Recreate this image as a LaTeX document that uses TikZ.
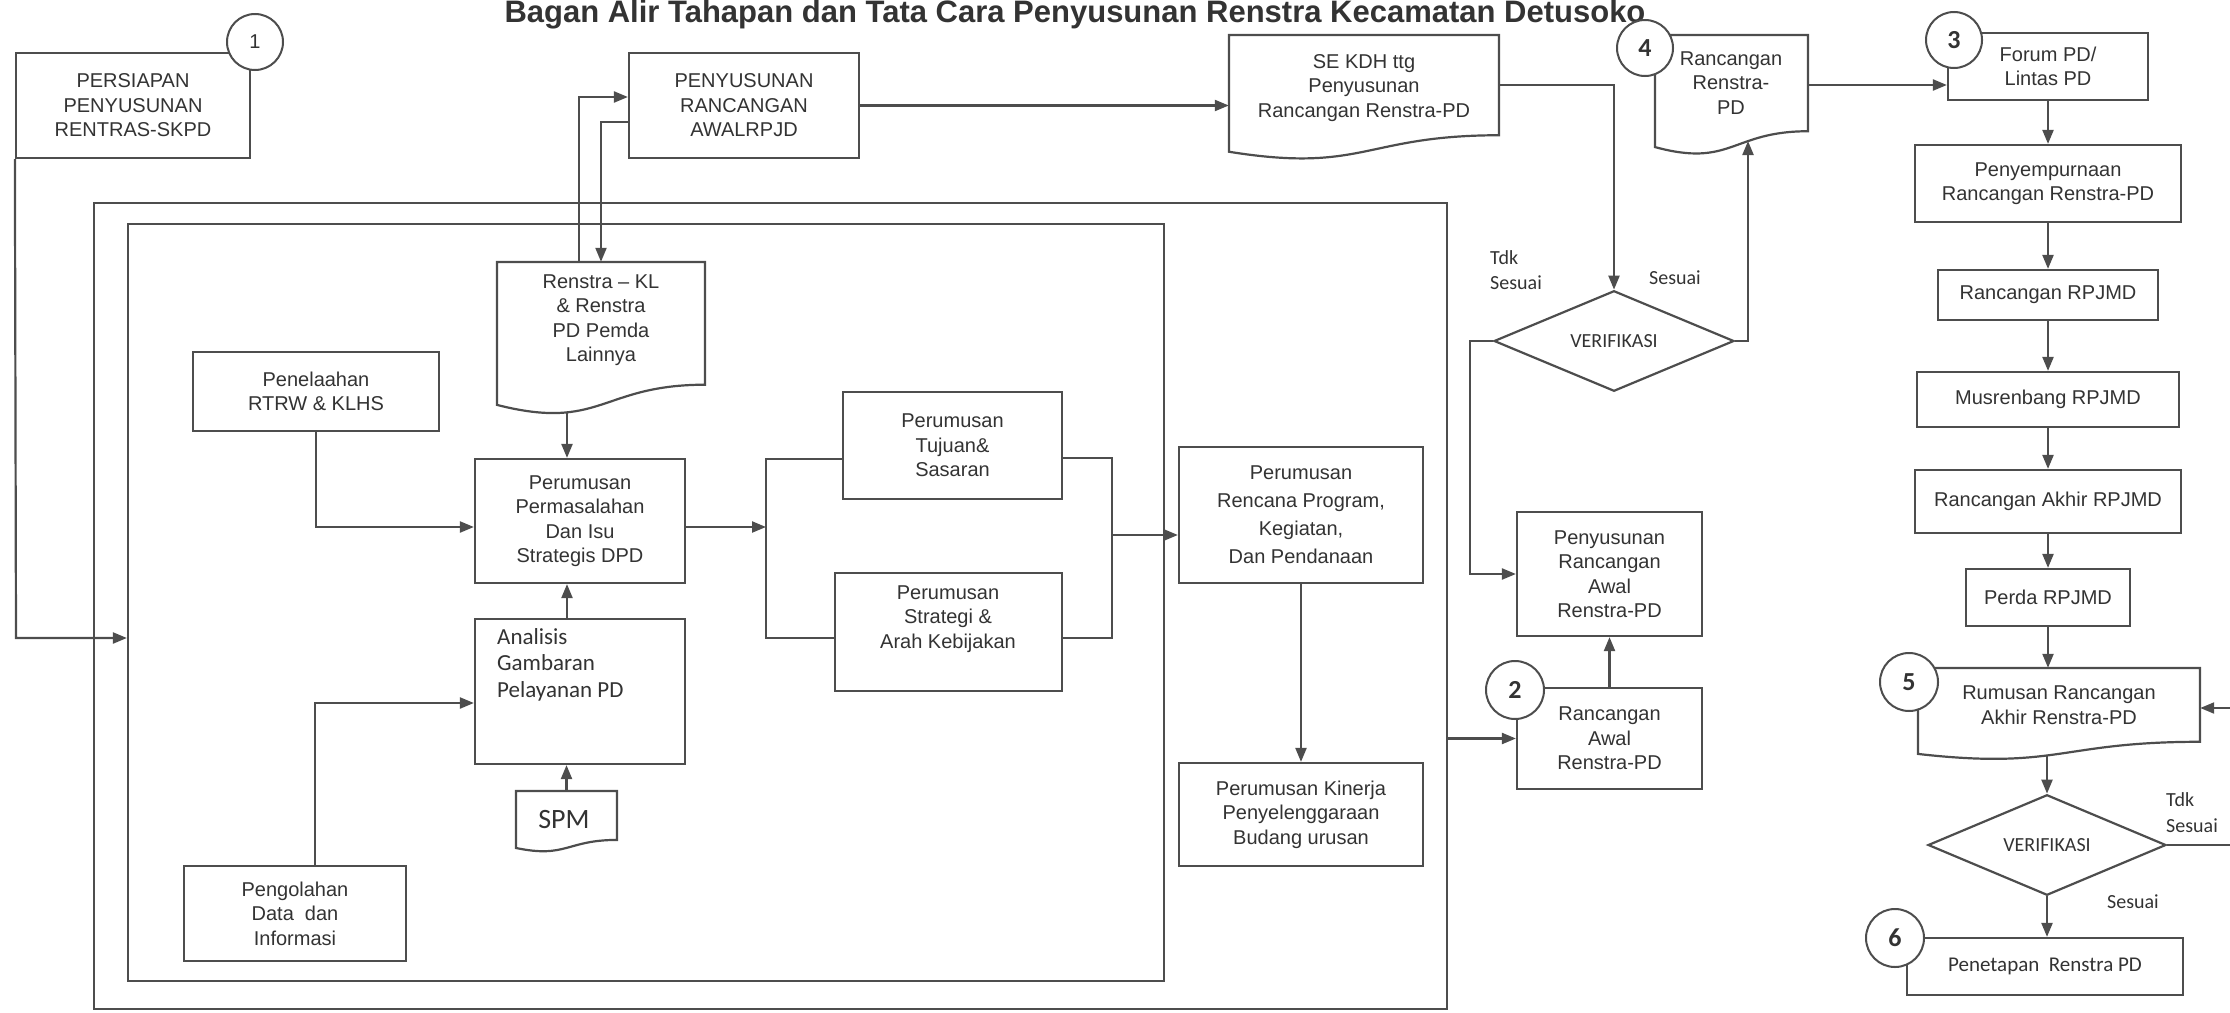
\documentclass[tikz,border=0pt]{standalone}
\usepackage{fontspec}
\setmainfont{Liberation Sans}
\newfontfamily\calf{Carlito}
\usetikzlibrary{arrows.meta,calc,shapes.geometric}
\definecolor{lc}{HTML}{4D4D4D}
\definecolor{tc}{HTML}{333333}
\tikzset{
  ln/.style={draw=lc,line width=2.2pt},
  arr/.style={ln,-{Triangle[length=14pt,width=11pt]}},
  txt/.style={text=tc,font=\fontsize{20}{24.5}\selectfont,align=center,inner sep=0pt},
  box/.style={rectangle,draw=lc,line width=2.2pt,fill=white,txt},
  frame/.style={rectangle,draw=none,inner sep=0pt},
  num/.style={circle,draw=lc,line width=2pt,fill=white,inner sep=0pt,minimum size=56pt,text=tc,font=\calf\bfseries\fontsize{26}{26}\selectfont},
  cal/.style={text=tc,inner sep=0pt,font=\calf\fontsize{20}{24}\selectfont},
  dia/.style={diamond,draw=lc,line width=2.2pt,fill=white,inner sep=0pt,cal},
}
\newcommand\bx[7][]{\node[box,minimum width={(#5-#3)*1pt},minimum height={(#6-#4)*1pt},#1] (#2) at ({(#3+#5)/2},{(#4+#6)/2}) {#7};}
\newcommand\dc[5]{%
  \node[frame,minimum width={(#4-#2)*1pt},minimum height={#5*1pt}] (#1) at ({(#2+#4)/2},{#3+#5/2}) {};
  \draw[ln,fill=white] (#2,#3) -- (#4,#3) -- (#4,{#3+0.802*#5}) .. controls ({(#2+#4)/2},{#3+0.802*#5}) and ({(#2+#4)/2},{#3+1.1075*#5}) .. (#2,{#3+0.934*#5}) -- cycle;}
\begin{document}
\begin{tikzpicture}[x=1pt,y=-1pt]
\useasboundingbox (0,0) rectangle (2230,1012);
\node[text=tc,font=\bfseries\fontsize{31}{31}\selectfont,anchor=base,inner sep=0pt] (title) at (1075,22) {Bagan Alir Tahapan dan Tata Cara Penyusunan Renstra Kecamatan Detusoko};

% containers
\bx[fill=none]{outer}{94}{203}{1447}{1009}{}
\bx[fill=none]{inner}{128}{224}{1164}{981}{}

% top row
\bx{persiapan}{16}{53}{250}{158}{PERSIAPAN\\PENYUSUNAN\\RENTRAS-SKPD}
\bx{penyusunan}{629}{53}{859}{158}{PENYUSUNAN\\RANCANGAN\\AWALRPJD}
\dc{sekdh}{1229}{35}{1499}{125}
\node[txt] (sekdhT) at (1364,88) {SE KDH ttg\\Penyusunan\\Rancangan Renstra-PD};
\dc{rancdoc}{1655}{35}{1808}{120}
\node[txt] (rancdocT) at (1731,83) {Rancangan\\Renstra-\\PD};

% right column
\bx{forum}{1948}{33}{2148}{100}{Forum PD/\\Lintas PD}
\bx{penyemp}{1915}{145}{2181}{222}{Penyempurnaan\\Rancangan Renstra-PD}
\bx{rrpjmd}{1938}{270}{2158}{320}{Rancangan RPJMD}
\bx{musren}{1917}{372}{2179}{427}{Musrenbang RPJMD}
\bx{akhir}{1915}{470}{2181}{533}{Rancangan Akhir RPJMD}
\bx{perda}{1966}{569}{2130}{626}{Perda RPJMD}
\dc{rumusan}{1918}{668}{2200}{92}
\node[txt] (rumusanT) at (2059,705) {Rumusan Rancangan\\Akhir Renstra-PD};
\node[dia,minimum width=238pt,minimum height=84pt] (verif2) at (2047,845) {VERIFIKASI};
\bx[font=\calf\fontsize{21}{24}\selectfont]{penetapan}{1907}{938}{2183}{995}{Penetapan\ \ Renstra PD}

% middle column
\node[dia,minimum width=240pt,minimum height=94pt] (verif1) at (1614,341) {VERIFIKASI};
\bx{penyawal}{1517}{512}{1702}{636}{Penyusunan\\Rancangan\\Awal\\Renstra-PD}
\bx{rancawal}{1517}{688}{1702}{789}{Rancangan\\Awal\\Renstra-PD}

\node[cal,anchor=west] (tdk1) at (1490,258) {Tdk};
\node[cal,anchor=west] (ses1) at (1490,283) {Sesuai};
\node[cal] (ses1r) at (1675,278) {Sesuai};
\node[cal,anchor=west] (tdk2) at (2166,800) {Tdk};
\node[cal,anchor=west] (ses2) at (2166,826) {Sesuai};
\node[cal] (ses2b) at (2133,902) {Sesuai};

% inner content
\bx{penelaahan}{193}{352}{439}{431}{Penelaahan\\RTRW \& KLHS}
\dc{renstra}{497}{262}{705}{153}
\node[txt] (renstraT) at (601,320) {Renstra – KL\\\& Renstra\\PD Pemda\\Lainnya};
\bx{perumusan}{475}{459}{685}{583}{Perumusan\\Permasalahan\\Dan Isu\\Strategis DPD}
\bx{analisis}{475}{619}{685}{764}{}
\node[cal,font=\calf\fontsize{23}{26.5}\selectfont,align=left,anchor=north west] (analisisT) at (497,628) {Analisis\\Gambaran\\Pelayanan PD};
\dc{spm}{516}{791}{617}{61}
\node[cal,font=\calf\fontsize{28}{28}\selectfont] (spmT) at (564,819) {SPM};
\bx{pengolahan}{184}{866}{406}{961}{Pengolahan\\Data\ \ dan\\Informasi}
\bx{tujuan}{843}{392}{1062}{499}{Perumusan\\Tujuan\&\\Sasaran}
\bx{strategi}{835}{573}{1062}{691}{}
\node[txt] (strategiT) at (948,619) {Perumusan\\Strategi \&\\Arah Kebijakan};
\bx[font=\fontsize{20}{28}\selectfont]{rencana}{1179}{447}{1423}{583}{Perumusan\\Rencana Program,\\Kegiatan,\\Dan Pendanaan}
\bx{kinerja}{1179}{763}{1423}{866}{Perumusan Kinerja\\Penyelenggaraan\\Budang urusan}

% connectors
\coordinate (j1) at (16,638);
\draw[arr] (persiapan.south west) -- (j1) -- (j1 -| inner.west);
\draw[arr] ([xshift=-22pt]renstra.north) |- ([yshift=8.5pt]penyusunan.west);
\draw[arr] ([yshift=-16.5pt]penyusunan.west) -| (renstra.north);
\draw[arr] (penyusunan.east) -- (penyusunan.east -| sekdh.west);
\draw[arr] ([yshift=12.5pt]sekdh.east) -| (verif1.north);
\coordinate (rr) at (1748,141);
\draw[arr] (verif1.east) -| (rr);
\draw[arr] (verif1.west) -- ++(-23,0) |- (penyawal.west);
\coordinate (rde) at ([yshift=10pt]rancdoc.east);
\draw[arr] (rde) -- (rde -| forum.west);
\draw[arr] (forum.south) -- (forum.south |- penyemp.north);
\draw[arr] (penyemp.south) -- (penyemp.south |- rrpjmd.north);
\draw[arr] (rrpjmd.south) -- (rrpjmd.south |- musren.north);
\draw[arr] (musren.south) -- (musren.south |- akhir.north);
\draw[arr] (akhir.south) -- (akhir.south |- perda.north);
\draw[arr] (perda.south) -- (perda.south |- rumusan.north);
\coordinate (rumb) at (2047,755);
\draw[arr] (rumb) -- (rumb |- verif2.north);
\coordinate (redge) at (2230,708);
\draw[arr] (redge) -- (redge -| rumusan.east);
\coordinate (redge2) at (2230,845);
\draw[ln] (verif2.east) -- (redge2);
\draw[arr] (verif2.south) -- (verif2.south |- penetapan.north);
\draw[arr] (rancawal.north) -- (rancawal.north |- penyawal.south);
\draw[arr] (outer.east |- rancawal.west) -- (rancawal.west);

\coordinate (pw) at ([yshift=-6pt]perumusan.west);
\draw[arr] (penelaahan.south) |- (pw);
\coordinate (rsb) at (567,412);
\draw[arr] (rsb) -- (rsb |- perumusan.north);
\draw[arr] (analisis.north -| rsb) -- (perumusan.south -| rsb);
\draw[arr] (spm.north) -- (spm.north |- analisis.south);
\coordinate (aw) at ([yshift=-11.5pt]analisis.west);
\draw[arr] ([xshift=20pt]pengolahan.north) |- (aw);
\coordinate (bLt) at (766,459); \coordinate (bLb) at (766,638);
\coordinate (bRt) at (1112,458); \coordinate (bRb) at (1112,638);
\draw[ln] (bLt -| tujuan.west) -- (bLt) -- (bLb) -- (bLb -| strategi.west);
\coordinate (pe) at ([yshift=-6pt]perumusan.east);
\draw[arr] (pe) -- (pe -| bLt);
\draw[ln] (bRt -| tujuan.east) -- (bRt) -- (bRb) -- (bRb -| strategi.east);
\coordinate (rin) at ([yshift=-20pt]rencana.west);
\draw[arr] (rin -| bRt) -- (rin);
\draw[arr] (rencana.south) -- (kinerja.north);

% circles
\node[num,font=\fontsize{20}{20}\selectfont] (c1) at (255,42) {1};
\node[num] (c4) at (1645,48) {4};
\node[num] (c3) at (1954,40) {3};
\node[num,minimum size=58pt] (c2) at (1515,690) {2};
\node[num,minimum size=58pt] (c5) at (1909,682) {5};
\node[num,minimum size=58pt] (c6) at (1895,938) {6};
\end{tikzpicture}
\end{document}
